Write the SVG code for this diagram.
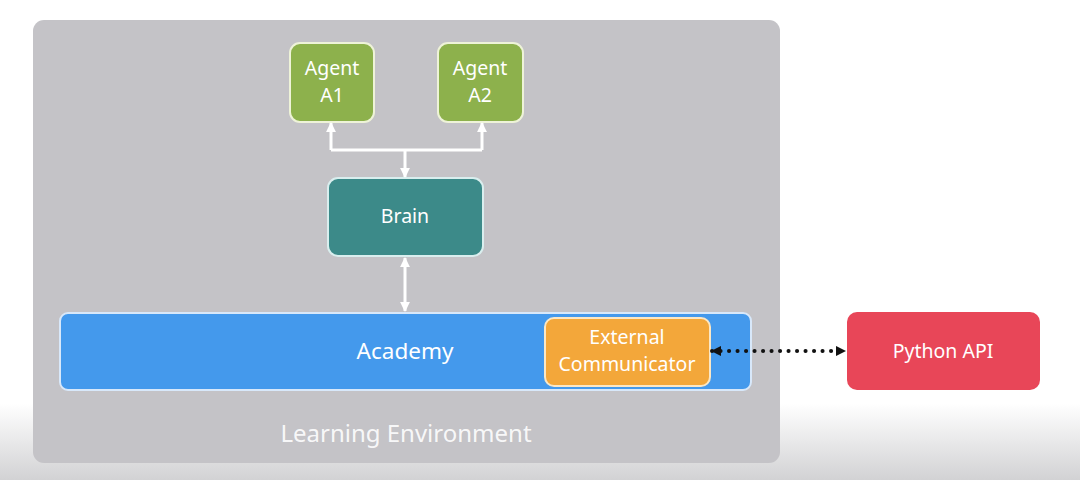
<svg xmlns="http://www.w3.org/2000/svg" width="1080" height="480" viewBox="0 0 1080 480">
<defs>
<linearGradient id="bg" x1="0" y1="0" x2="0" y2="1">
<stop offset="0" stop-color="#ffffff"/>
<stop offset="0.84" stop-color="#ffffff"/>
<stop offset="1" stop-color="#d2d2d4"/>
</linearGradient>
<marker id="wa" viewBox="0 0 10 10" refX="9" refY="5" markerWidth="3.3" markerHeight="3.3" orient="auto-start-reverse" markerUnits="strokeWidth">
<path d="M0,0 L10,5 L0,10 z" fill="#ffffff"/>
</marker>
<marker id="ka" viewBox="0 0 10 10" refX="9" refY="5" markerWidth="3" markerHeight="3" orient="auto-start-reverse" markerUnits="strokeWidth">
<path d="M0,0 L10,5 L0,10 z" fill="#111111"/>
</marker>
</defs>
<style>
.t{font-family:"Noto Sans",sans-serif;fill:#ffffff;text-anchor:middle;font-size:19.5px}
.big{font-size:22.5px}
.env{font-size:24px;fill-opacity:0.9}
.w{stroke:#ffffff;stroke-width:3;fill:none}
</style>
<rect width="1080" height="480" fill="url(#bg)"/>
<g id="env">
<rect x="33" y="20" width="747" height="443" rx="11" fill="#c4c3c7"/>
<text class="t env" x="406" y="442">Learning Environment</text>
</g>
<g id="agentA1">
<rect x="290" y="43" width="84" height="79" rx="10" fill="#8db14c" stroke="#eef3d8" stroke-width="2"/>
<text class="t" x="332" y="75">Agent</text>
<text class="t" x="332" y="102">A1</text>
</g>
<g id="agentA2">
<rect x="438" y="43" width="85" height="79" rx="10" fill="#8db14c" stroke="#eef3d8" stroke-width="2"/>
<text class="t" x="480" y="75">Agent</text>
<text class="t" x="480" y="102">A2</text>
</g>
<g id="brain">
<rect x="328" y="178" width="155" height="78" rx="10" fill="#3c8a89" stroke="#d9eeee" stroke-width="2"/>
<text class="t" x="405" y="223">Brain</text>
</g>
<g id="academy">
<rect x="60" y="313" width="691" height="77" rx="8" fill="#4499ec" stroke="#d8e8fa" stroke-width="2"/>
<text class="t big" x="405" y="359">Academy</text>
</g>
<g id="external">
<rect x="545" y="318" width="165" height="68" rx="9" fill="#f3a73a" stroke="#fbe7c5" stroke-width="2"/>
<text class="t" x="627" y="344">External</text>
<text class="t" x="627" y="371">Communicator</text>
</g>
<g id="python">
<rect x="847" y="312" width="193" height="78" rx="10" fill="#e84658"/>
<text class="t" x="943" y="358">Python API</text>
</g>
<g id="connectors">
<path class="w" d="M331,150 L482,150"/>
<path class="w" d="M331,150 L331,123" marker-end="url(#wa)"/>
<path class="w" d="M482,150 L482,123" marker-end="url(#wa)"/>
<path class="w" d="M405,150 L405,177" marker-end="url(#wa)"/>
<path class="w" d="M405,258 L405,311" marker-start="url(#wa)" marker-end="url(#wa)"/>
<path d="M712,351 L845,351" stroke="#111111" stroke-width="4" fill="none" stroke-dasharray="0.1,8.4" stroke-linecap="round"/>
<path d="M712,351 L845,351" stroke="none" stroke-width="3.5" fill="none" marker-start="url(#ka)" marker-end="url(#ka)"/>
</g>
</svg>
